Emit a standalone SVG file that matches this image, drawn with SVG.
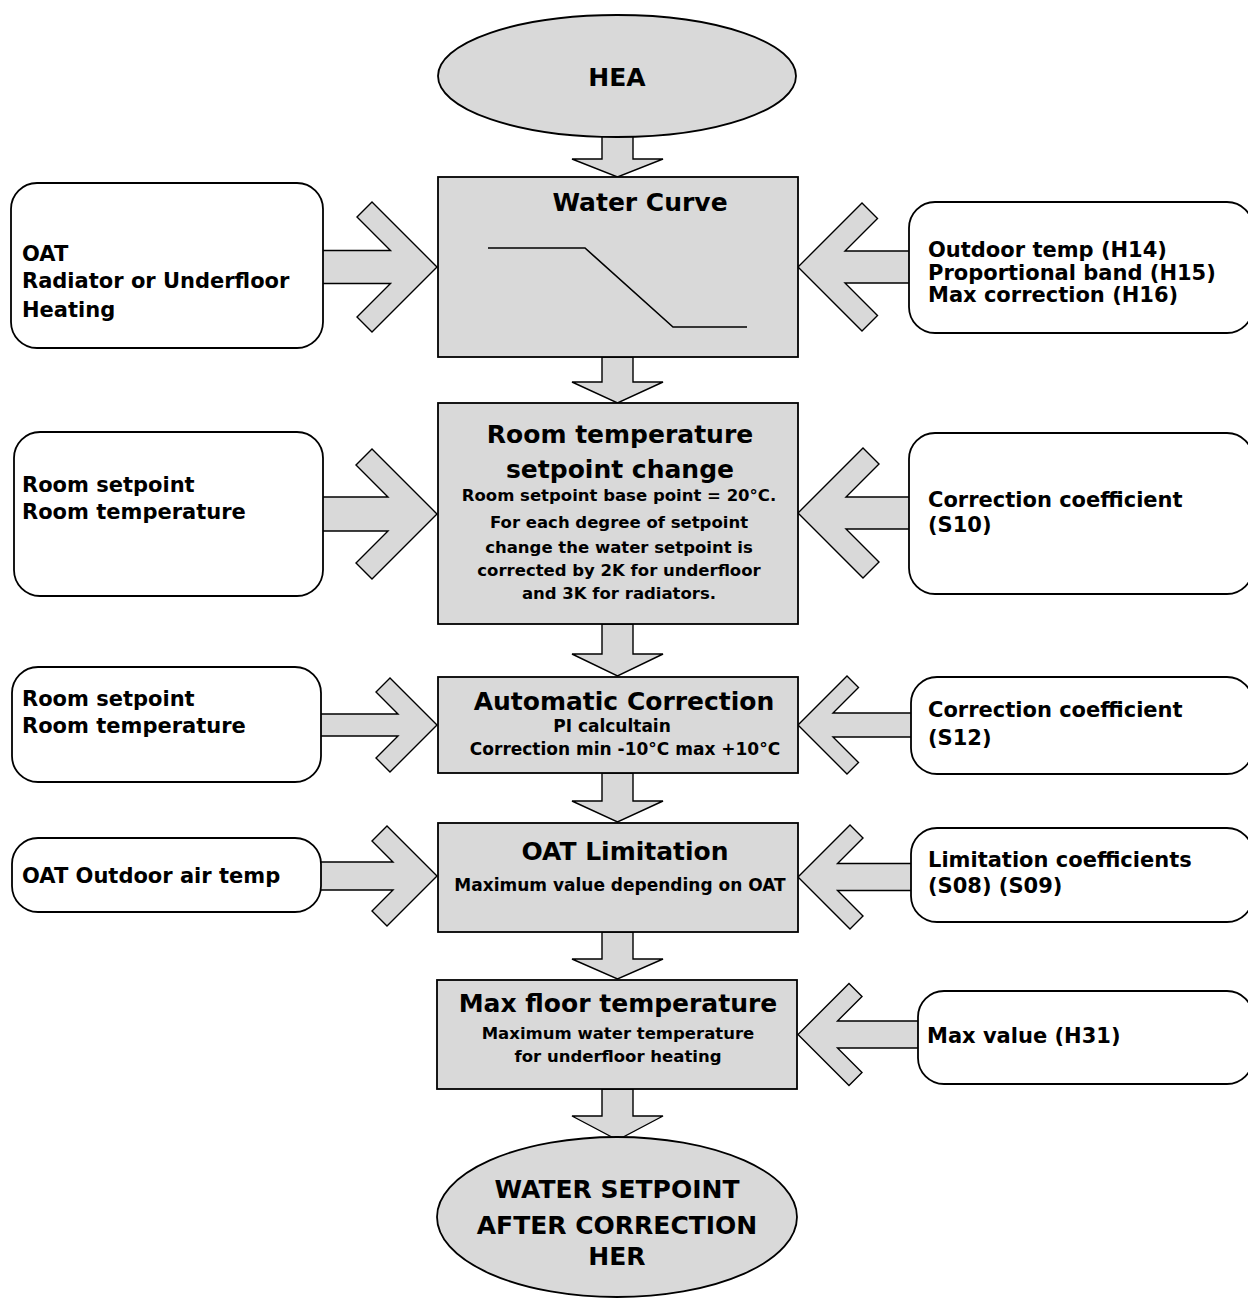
<svg xmlns="http://www.w3.org/2000/svg" width="1248" height="1300" viewBox="0 0 1248 1300">
<style>
.node{fill:#d9d9d9;stroke:#000;stroke-width:1.8}
.inbox{fill:#fff;stroke:#000;stroke-width:1.8}
.arr{fill:#d9d9d9;stroke:#000;stroke-width:1.4;stroke-linejoin:miter}
.curve{fill:none;stroke:#000;stroke-width:1.6}
text{font-family:"DejaVu Sans","Liberation Sans",sans-serif;font-weight:bold;fill:#000}
.t{font-size:25px;text-anchor:middle}
.s{font-size:16.5px;text-anchor:middle}
.s17{font-size:17px;text-anchor:middle}
.l{font-size:21px}
</style>
<rect width="1248" height="1300" fill="#fff"/>
<g id="connectors">
  <!-- down arrows -->
  <polygon class="arr" points="602,130 633,130 633,159 663,159 617.5,177 572,159 602,159"/>
  <polygon class="arr" points="602,357 633,357 633,382 663,382 617.5,403 572,382 602,382"/>
  <polygon class="arr" points="602,624 633,624 633,654 663,654 617.5,676 572,654 602,654"/>
  <polygon class="arr" points="602,773 633,773 633,801 663,801 617.5,822 572,801 602,801"/>
  <polygon class="arr" points="602,932 633,932 633,959 663,959 617.5,979 572,959 602,959"/>
  <polygon class="arr" points="602,1089 633,1089 633,1116 663,1116 617.5,1140 572,1116 602,1116"/>
  <!-- left arrows -->
  <polygon class="arr" points="316,250.5 390.5,250.5 357,217 372,202 437,267 372,332 357,317 390.5,283.5 316,283.5"/>
  <polygon class="arr" points="316,497 388,497 356,465 372,449 437,514 372,579 356,563 388,531 316,531"/>
  <polygon class="arr" points="316,714 398,714 376,692 390,678 437,725 390,772 376,758 398,736 316,736"/>
  <polygon class="arr" points="316,862 393,862 372,841 387,826 437,876 387,926 372,911 393,890 316,890"/>
  <!-- right arrows -->
  <polygon class="arr" points="914,251 845,251 877.5,218.5 862,203 798,267 862,331 877.5,315.5 845,283 914,283"/>
  <polygon class="arr" points="914,497 846,497 879,464 863,448 798,513 863,578 879,562 846,529 914,529"/>
  <polygon class="arr" points="916,713 833,713 858.5,687.5 847,676 798,725 847,774 858.5,762.5 833,737 916,737"/>
  <polygon class="arr" points="916,863.5 837.5,863.5 863,838 850,825 798,877 850,929 863,916 837.5,890.5 916,890.5"/>
  <polygon class="arr" points="923,1021 837.5,1021 862,996.5 849,983.5 798,1034.5 849,1085.5 862,1072.5 837.5,1048 923,1048"/>
</g>
<g id="hea">
  <ellipse class="node" cx="617" cy="76" rx="179" ry="61"/>
  <text class="t" x="617" y="86">HEA</text>
</g>
<g id="water-curve">
  <rect class="node" x="438" y="177" width="360" height="180"/>
  <text class="t" x="640" y="211">Water Curve</text>
  <polyline class="curve" points="488,248 585,248 673,327 747,327"/>
</g>
<g id="room-temp-change">
  <rect class="node" x="438" y="403" width="360" height="221"/>
  <text class="t" x="620" y="443">Room temperature</text>
  <text class="t" x="620" y="478">setpoint change</text>
  <text class="s" x="619" y="501">Room setpoint base point = 20°C.</text>
  <text class="s" x="619" y="528">For each degree of setpoint</text>
  <text class="s" x="619" y="553">change the water setpoint is</text>
  <text class="s" x="619" y="576">corrected by 2K for underfloor</text>
  <text class="s" x="619" y="599">and 3K for radiators.</text>
</g>
<g id="auto-correction">
  <rect class="node" x="438" y="677" width="360" height="96"/>
  <text class="t" x="624" y="710">Automatic Correction</text>
  <text class="s17" x="612" y="732">PI calcultain</text>
  <text class="s17" x="625" y="755">Correction min -10°C max +10°C</text>
</g>
<g id="oat-limitation">
  <rect class="node" x="438" y="823" width="360" height="109"/>
  <text class="t" x="625" y="860">OAT Limitation</text>
  <text class="s17" x="620" y="891">Maximum value depending on OAT</text>
</g>
<g id="max-floor">
  <rect class="node" x="437" y="980" width="360" height="109"/>
  <text class="t" x="618" y="1012">Max floor temperature</text>
  <text class="s" x="618" y="1039">Maximum water temperature</text>
  <text class="s" x="618" y="1062">for underfloor heating</text>
</g>
<g id="water-setpoint">
  <ellipse class="node" cx="617" cy="1217" rx="180" ry="80"/>
  <text class="t" x="617" y="1198">WATER SETPOINT</text>
  <text class="t" x="617" y="1234">AFTER CORRECTION</text>
  <text class="t" x="617" y="1265">HER</text>
</g>
<g id="in-oat">
  <rect class="inbox" x="11" y="183" width="312" height="165" rx="26"/>
  <text class="l" x="22" y="261">OAT</text>
  <text class="l" x="22" y="288">Radiator or Underfloor</text>
  <text class="l" x="22" y="317">Heating</text>
</g>
<g id="in-room1">
  <rect class="inbox" x="14" y="432" width="309" height="164" rx="26"/>
  <text class="l" x="22" y="492">Room setpoint</text>
  <text class="l" x="22" y="519">Room temperature</text>
</g>
<g id="in-room2">
  <rect class="inbox" x="12" y="667" width="309" height="115" rx="26"/>
  <text class="l" x="22" y="706">Room setpoint</text>
  <text class="l" x="22" y="733">Room temperature</text>
</g>
<g id="in-oat2">
  <rect class="inbox" x="12" y="838" width="309" height="74" rx="26"/>
  <text class="l" x="22" y="883">OAT Outdoor air temp</text>
</g>
<g id="in-h14">
  <rect class="inbox" x="909" y="202" width="344" height="131" rx="26"/>
  <text class="l" x="928" y="257">Outdoor temp (H14)</text>
  <text class="l" x="928" y="280">Proportional band (H15)</text>
  <text class="l" x="928" y="302">Max correction (H16)</text>
</g>
<g id="in-s10">
  <rect class="inbox" x="909" y="433" width="344" height="161" rx="26"/>
  <text class="l" x="928" y="507">Correction coefficient</text>
  <text class="l" x="928" y="532">(S10)</text>
</g>
<g id="in-s12">
  <rect class="inbox" x="911" y="677" width="342" height="97" rx="26"/>
  <text class="l" x="928" y="717">Correction coefficient</text>
  <text class="l" x="928" y="745">(S12)</text>
</g>
<g id="in-s08">
  <rect class="inbox" x="911" y="828" width="342" height="94" rx="26"/>
  <text class="l" x="928" y="867">Limitation coefficients</text>
  <text class="l" x="928" y="893">(S08) (S09)</text>
</g>
<g id="in-h31">
  <rect class="inbox" x="918" y="991" width="335" height="93" rx="26"/>
  <text class="l" x="927" y="1043">Max value (H31)</text>
</g>
</svg>
